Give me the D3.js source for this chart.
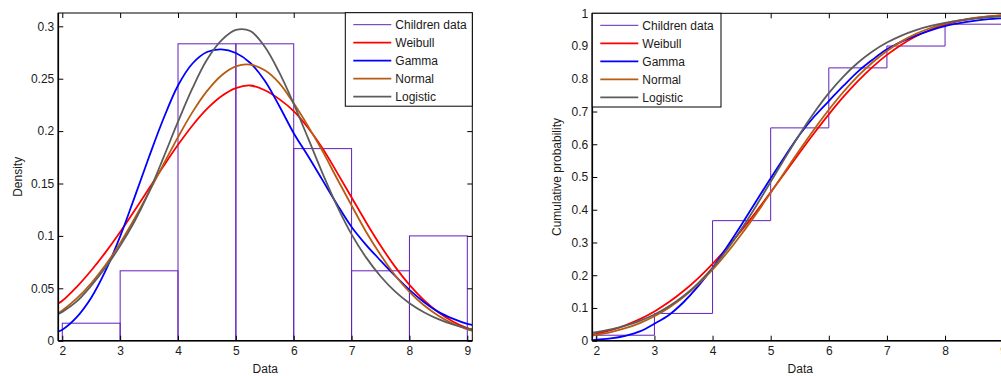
<!DOCTYPE html>
<html>
<head>
<meta charset="utf-8">
<script src="https://cdn.jsdelivr.net/npm/d3@7"></script>
<style>
  html, body { margin: 0; padding: 0; background: #ffffff; }
  svg { display: block; }
</style>
</head>
<body>
<svg id="chart" width="1001" height="376"></svg>
<script>
// ---------------- data ----------------
const xs = [1.93, 2, 2.25, 2.5, 2.75, 3, 3.25, 3.5, 3.75, 4, 4.25, 4.5, 4.75, 5, 5.25, 5.5,
            5.75, 6, 6.25, 6.5, 6.75, 7, 7.25, 7.5, 7.75, 8, 8.25, 8.5, 8.75, 9, 9.086];

const weibullPdf  = [0.0355, 0.0381, 0.0514, 0.0670, 0.0845, 0.1037, 0.1242, 0.1454, 0.1666, 0.1869,
                     0.2054, 0.2212, 0.2333, 0.2410, 0.2435, 0.2390, 0.2305, 0.2190, 0.2030, 0.1835,
                     0.1604, 0.1367, 0.1131, 0.0908, 0.0707, 0.0533, 0.0388, 0.0272, 0.0184, 0.0120, 0.0105];
const gammaPdf    = [0.0088, 0.0105, 0.0225, 0.0410, 0.0670, 0.0995, 0.1370, 0.1755, 0.2120, 0.2435,
                     0.2645, 0.2755, 0.2780, 0.2745, 0.2650, 0.2480, 0.2240, 0.1980, 0.1760, 0.1530,
                     0.1300, 0.1085, 0.0915, 0.0765, 0.0620, 0.0485, 0.0370, 0.0275, 0.0210, 0.0160, 0.0150];
const normalPdf   = [0.0262, 0.0288, 0.0403, 0.0548, 0.0724, 0.0931, 0.1166, 0.1420, 0.1684, 0.1942,
                     0.2181, 0.2381, 0.2531, 0.2618, 0.2634, 0.2580, 0.2458, 0.2265, 0.2045, 0.1806,
                     0.1545, 0.1290, 0.1040, 0.0820, 0.0625, 0.0466, 0.0338, 0.0239, 0.0164, 0.0109, 0.0097];
const logisticPdf = [0.0255, 0.0275, 0.0375, 0.0525, 0.0700, 0.0905, 0.1140, 0.1420, 0.1750, 0.2090,
                     0.2410, 0.2680, 0.2865, 0.2965, 0.2955, 0.2805, 0.2560, 0.2260, 0.1930, 0.1595,
                     0.1285, 0.1015, 0.0795, 0.0615, 0.0470, 0.0358, 0.0272, 0.0206, 0.0155, 0.0117, 0.0108];

const weibullCdf  = [0.0185, 0.0211, 0.0323, 0.0470, 0.0659, 0.0894, 0.1179, 0.1516, 0.1906, 0.2349,
                     0.2839, 0.3372, 0.3941, 0.4536, 0.5141, 0.5750, 0.6344, 0.6913, 0.7446, 0.7928,
                     0.8358, 0.8730, 0.9042, 0.9297, 0.9498, 0.9652, 0.9767, 0.9849, 0.9905, 0.9943, 0.9952];
const gammaCdf    = [0.0020, 0.0030, 0.0069, 0.0148, 0.0283, 0.0520, 0.0787, 0.1175, 0.1657, 0.2228,
                     0.2870, 0.3550, 0.4259, 0.4962, 0.5642, 0.6296, 0.6847, 0.7320, 0.7780, 0.8220,
                     0.8580, 0.8900, 0.9130, 0.9320, 0.9480, 0.9610, 0.9700, 0.9770, 0.9820, 0.9850, 0.9860];
const normalCdf   = [0.0158, 0.0177, 0.0263, 0.0381, 0.0539, 0.0745, 0.1007, 0.1331, 0.1718, 0.2171,
                     0.2686, 0.3259, 0.3874, 0.4518, 0.5177, 0.5830, 0.6461, 0.7054, 0.7597, 0.8079,
                     0.8498, 0.8851, 0.9142, 0.9371, 0.9551, 0.9687, 0.9787, 0.9858, 0.9908, 0.9942, 0.9950];
const logisticCdf = [0.0238, 0.0258, 0.0344, 0.0458, 0.0608, 0.0801, 0.1050, 0.1364, 0.1754, 0.2227,
                     0.2785, 0.3419, 0.4117, 0.4851, 0.5592, 0.6308, 0.6970, 0.7560, 0.8066, 0.8489,
                     0.8833, 0.9106, 0.9320, 0.9487, 0.9613, 0.9710, 0.9783, 0.9838, 0.9879, 0.9910, 0.9918];

const binEdges   = [2, 3, 4, 5, 6, 7, 8, 9];
const binDensity = [0.0167, 0.0667, 0.2833, 0.2833, 0.1833, 0.0667, 0.1000];

const ecdfX = [2, 3, 4, 5, 6, 7, 8, 9];
const ecdfY = [0.0167, 0.0833, 0.3667, 0.6500, 0.8333, 0.9000, 0.9667, 1.0000];

const xTicks       = [2, 3, 4, 5, 6, 7, 8, 9];
const densityTicks = [0, 0.05, 0.1, 0.15, 0.2, 0.25, 0.3];
const cdfTicks     = [0, 0.1, 0.2, 0.3, 0.4, 0.5, 0.6, 0.7, 0.8, 0.9, 1];

const legendNames = ["Children data", "Weibull", "Gamma", "Normal", "Logistic"];

// ---------------- styling ----------------
const FONT = "'Liberation Sans', Arial, Helvetica, sans-serif";
const dataColor = "#6220bc";
const fitColors = { Weibull: "#ff0000", Gamma: "#0000ff", Normal: "#b85c12", Logistic: "#5c5c5c" };

const svg = d3.select("#chart");

function panel(cfg) {
  const x = d3.scaleLinear().domain(cfg.xDomain).range([cfg.left, cfg.right]);
  const y = d3.scaleLinear().domain(cfg.yDomain).range([cfg.bottom, cfg.top]);
  const g = svg.append("g");

  const clipId = "clip-" + cfg.id;
  g.append("clipPath").attr("id", clipId).append("rect")
    .attr("x", cfg.left).attr("y", cfg.top)
    .attr("width", cfg.right - cfg.left).attr("height", cfg.bottom - cfg.top);

  const plot = g.append("g").attr("clip-path", `url(#${clipId})`);

  // data marks
  if (cfg.type === "pdf") {
    plot.selectAll("rect.bin").data(binDensity).join("rect")
      .attr("class", "bin")
      .attr("x", (d, i) => x(binEdges[i]))
      .attr("width", (d, i) => x(binEdges[i + 1]) - x(binEdges[i]))
      .attr("y", d => y(d))
      .attr("height", d => y(0) - y(d))
      .attr("fill", "none").attr("stroke", dataColor).attr("stroke-width", 1);
  } else {
    const pts = [[ecdfX[0], 0]].concat(ecdfX.map((v, i) => [v, ecdfY[i]]));
    plot.append("path")
      .attr("d", d3.line().x(d => x(d[0])).y(d => y(d[1])).curve(d3.curveStepAfter)(pts))
      .attr("fill", "none").attr("stroke", dataColor).attr("stroke-width", 1);
  }

  const line = d3.line().x(d => x(d[0])).y(d => y(d[1])).curve(d3.curveCatmullRom.alpha(0.5));
  cfg.series.forEach(s => {
    plot.append("path")
      .attr("d", line(xs.map((v, i) => [v, s.values[i]])))
      .attr("fill", "none").attr("stroke", fitColors[s.name])
      .attr("stroke-width", 1.8).attr("stroke-linejoin", "round");
  });

  // axes (ticks inward, mirrored on top/right)
  const fmt = d3.format("~g");
  const bottomAx = g.append("g").attr("transform", `translate(0,${cfg.bottom})`)
    .call(d3.axisBottom(x).tickValues(xTicks).tickSizeInner(-5).tickSizeOuter(0).tickPadding(6).tickFormat(fmt));
  const leftAx = g.append("g").attr("transform", `translate(${cfg.left},0)`)
    .call(d3.axisLeft(y).tickValues(cfg.yTicks).tickSizeInner(-5).tickSizeOuter(0).tickPadding(4).tickFormat(fmt));
  const topAx = g.append("g").attr("transform", `translate(0,${cfg.top})`)
    .call(d3.axisTop(x).tickValues(xTicks).tickSizeInner(-5).tickSizeOuter(0).tickFormat(""));
  const rightAx = g.append("g").attr("transform", `translate(${cfg.right},0)`)
    .call(d3.axisRight(y).tickValues(cfg.yTicks).tickSizeInner(-5).tickSizeOuter(0).tickFormat(""));
  [bottomAx, leftAx, topAx, rightAx].forEach(a => {
    a.attr("font-family", FONT).attr("font-size", 12);
    a.select(".domain").remove();
    a.selectAll(".tick line").attr("stroke", "#000").attr("stroke-width", 1);
    a.selectAll(".tick text").attr("fill", "#1a1a1a");
  });

  // box
  g.append("rect")
    .attr("x", cfg.left).attr("y", cfg.top)
    .attr("width", cfg.right - cfg.left).attr("height", cfg.bottom - cfg.top)
    .attr("fill", "none").attr("stroke", "#000").attr("stroke-width", 1);
  g.append("line").attr("x1", cfg.left).attr("x2", cfg.right)
    .attr("y1", cfg.bottom).attr("y2", cfg.bottom).attr("stroke", "#000").attr("stroke-width", 1.6);
  g.append("line").attr("x1", cfg.left).attr("x2", cfg.left)
    .attr("y1", cfg.top).attr("y2", cfg.bottom).attr("stroke", "#000").attr("stroke-width", 1.6);

  // axis titles
  g.append("text").attr("x", (cfg.left + cfg.right) / 2).attr("y", 373)
    .attr("text-anchor", "middle").attr("font-family", FONT).attr("font-size", 12)
    .attr("fill", "#1a1a1a").text("Data");
  g.append("text")
    .attr("transform", `translate(${cfg.yLabelX},${(cfg.top + cfg.bottom) / 2}) rotate(-90)`)
    .attr("text-anchor", "middle").attr("font-family", FONT).attr("font-size", 12)
    .attr("fill", "#1a1a1a").text(cfg.yLabel);

  // legend
  const lg = g.append("g").attr("transform", `translate(${cfg.legend.x},${cfg.legend.y})`);
  lg.append("rect").attr("x", 0).attr("y", 0)
    .attr("width", cfg.legend.w).attr("height", cfg.legend.h)
    .attr("fill", "#fff").attr("stroke", "#000").attr("stroke-width", 1);
  legendNames.forEach((name, i) => {
    const yy = 12 + i * 18;
    lg.append("line").attr("x1", 8).attr("x2", 46).attr("y1", yy).attr("y2", yy)
      .attr("stroke", i === 0 ? dataColor : fitColors[name])
      .attr("stroke-width", i === 0 ? 1 : 1.8);
    lg.append("text").attr("x", 50).attr("y", yy).attr("dy", "0.36em")
      .attr("font-family", FONT).attr("font-size", 12).attr("fill", "#1a1a1a").text(name);
  });
}

panel({
  id: "pdf", type: "pdf",
  left: 58.3, right: 472.3, top: 13, bottom: 340.7,
  xDomain: [1.931, 9.0864], yDomain: [0, 0.3127],
  yTicks: densityTicks, yLabel: "Density", yLabelX: 21.5,
  legend: { x: 345.3, y: 12.7, w: 127, h: 93.5 },
  series: [
    { name: "Weibull", values: weibullPdf },
    { name: "Gamma", values: gammaPdf },
    { name: "Normal", values: normalPdf },
    { name: "Logistic", values: logisticPdf }
  ]
});

panel({
  id: "cdf", type: "cdf",
  left: 592.3, right: 1008.2, top: 13.3, bottom: 340.7,
  xDomain: [1.9312, 9.0864], yDomain: [0, 1],
  yTicks: cdfTicks, yLabel: "Cumulative probability", yLabelX: 561,
  legend: { x: 592.3, y: 13.3, w: 128.7, h: 93.7 },
  series: [
    { name: "Weibull", values: weibullCdf },
    { name: "Gamma", values: gammaCdf },
    { name: "Normal", values: normalCdf },
    { name: "Logistic", values: logisticCdf }
  ]
});
</script>
</body>
</html>
